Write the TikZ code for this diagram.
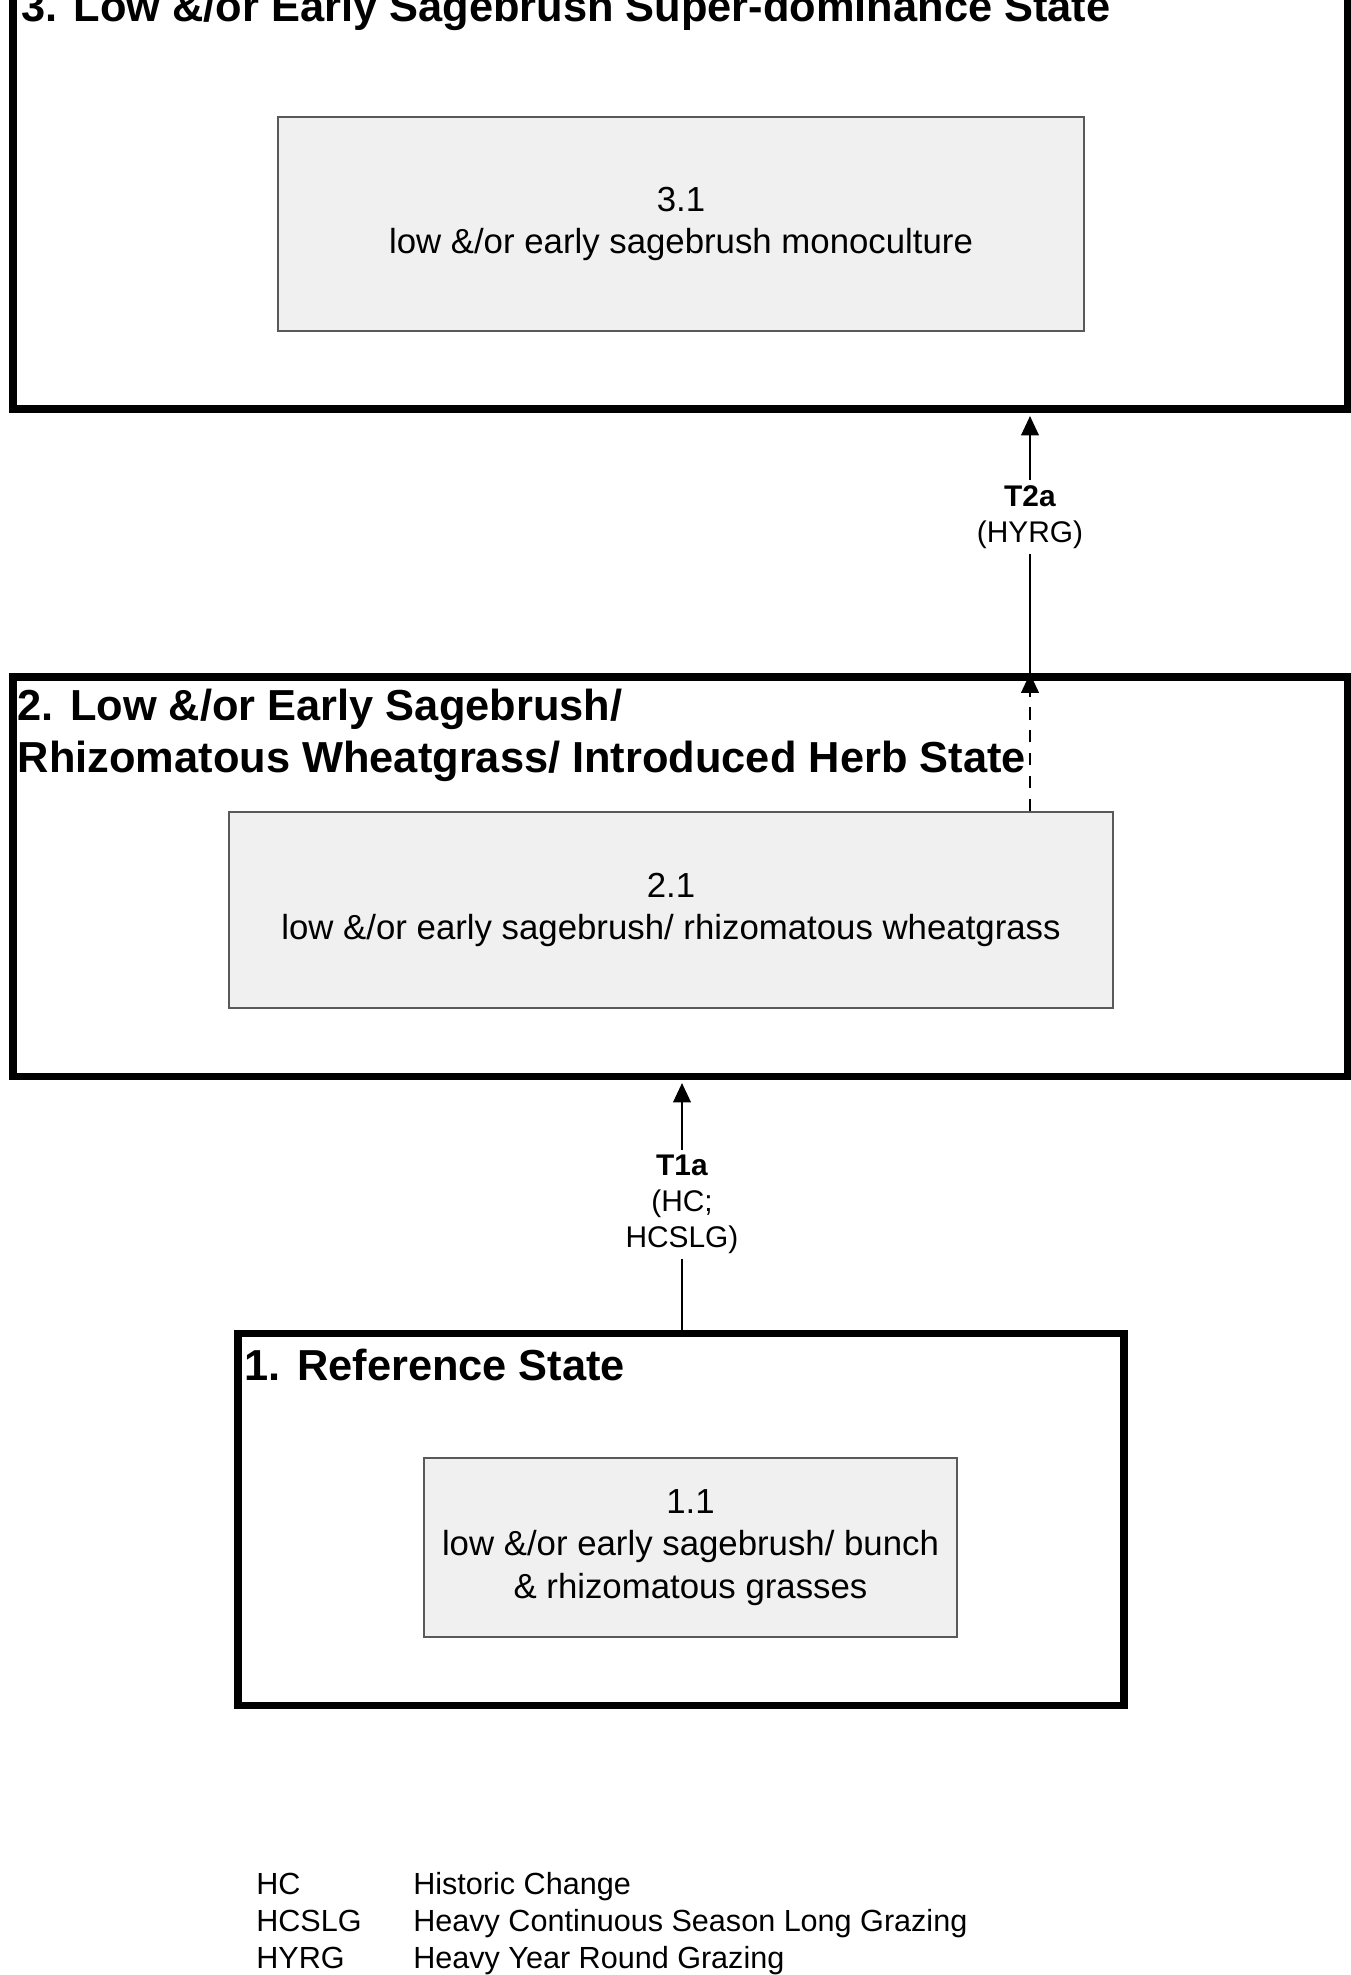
\documentclass[tikz,border=0pt]{standalone}
\usepackage{fontspec}
\setmainfont{Liberation Sans}
\usetikzlibrary{arrows.meta,fit,calc}

\tikzset{
  statebox/.style={draw, line width=4pt, inner sep=0pt},
  phasebox/.style={draw=black!65, line width=1.2pt, fill=black!6, inner sep=0pt},
  statetitle/.style={anchor=base west, align=left, inner sep=0pt, font=\bfseries\fontsize{24.7}{29.5}\selectfont},
  phasetext/.style={align=center, inner sep=0pt, font=\fontsize{19.8}{24.4}\selectfont},
  trans/.style={line width=1.2pt, -{Triangle[length=11pt,width=10pt]}},
  translabel/.style={fill=white, align=center, inner sep=3pt, font=\fontsize{17}{20.4}\selectfont},
  legend/.style={anchor=base west, inner sep=0pt, font=\fontsize{17.4}{21}\selectfont}
}

\begin{document}
\begin{tikzpicture}[x=0.02cm, y=-0.02cm]
\useasboundingbox (0,0) rectangle (1351,1975);
\clip (0,0) rectangle (1351,1975);

% states
\node[statebox, fit={(13,-120) (1347,409)}] (st3) {};
\node[statebox, fit={(13,677) (1347,1076)}] (st2) {};
\node[statebox, fit={(238,1333) (1124,1705)}] (st1) {};

\node[statetitle] (tt3) at (21,21) {3. Low \&/or Early Sagebrush Super-dominance State};
\node[statetitle] (tt2) at ($(st2.north west)+(8,99)$) {2. Low \&/or Early Sagebrush/\\Rhizomatous Wheatgrass/ Introduced Herb State};
\node[statetitle] (tt1) at ($(st1.north west)+(10,51)$) {1. Reference State};

% community phases
\node[phasebox, fit={(278,117) (1084,331)}] (in3) {};
\node[phasebox, fit={(229,812) (1113,1008)}] (in2) {};
\node[phasebox, fit={(424,1458) (957,1637)}] (in1) {};

\node[phasetext] (ph3) at (in3) {3.1\\low \&/or early sagebrush monoculture};
\node[phasetext] (ph2) at (in2) {2.1\\low \&/or early sagebrush/ rhizomatous wheatgrass};
\node[phasetext] (ph1) at (in1) {1.1\\low \&/or early sagebrush/ bunch\\\& rhizomatous grasses};

% transitions
\coordinate (t2x) at (1030,0);
\coordinate (t1x) at (682,0);
\draw[trans, dashed, dash pattern=on 7pt off 6pt] (in2.north -| t2x) -- (st2.north -| t2x);
\draw[trans, shorten >=2pt] (st2.north -| t2x) -- node[translabel, pos=0.6] (lt2) {\textbf{T2a}\\(HYRG)} (st3.south -| t2x);
\draw[trans, shorten >=2pt] (st1.north -| t1x) -- node[translabel] (lt1) {\textbf{T1a}\\(HC;\\HCSLG)} (st2.south -| t1x);

% legend
\node[legend] (hc) at (256,1894) {HC};
\node[legend] (hcslg) at (256,1931) {HCSLG};
\node[legend] (hyrg) at (256,1968) {HYRG};
\node[legend] (hcd) at (413,1894) {Historic Change};
\node[legend] (hcslgd) at (413,1931) {Heavy Continuous Season Long Grazing};
\node[legend] (hyrgd) at (413,1968) {Heavy Year Round Grazing};
\end{tikzpicture}
\end{document}
